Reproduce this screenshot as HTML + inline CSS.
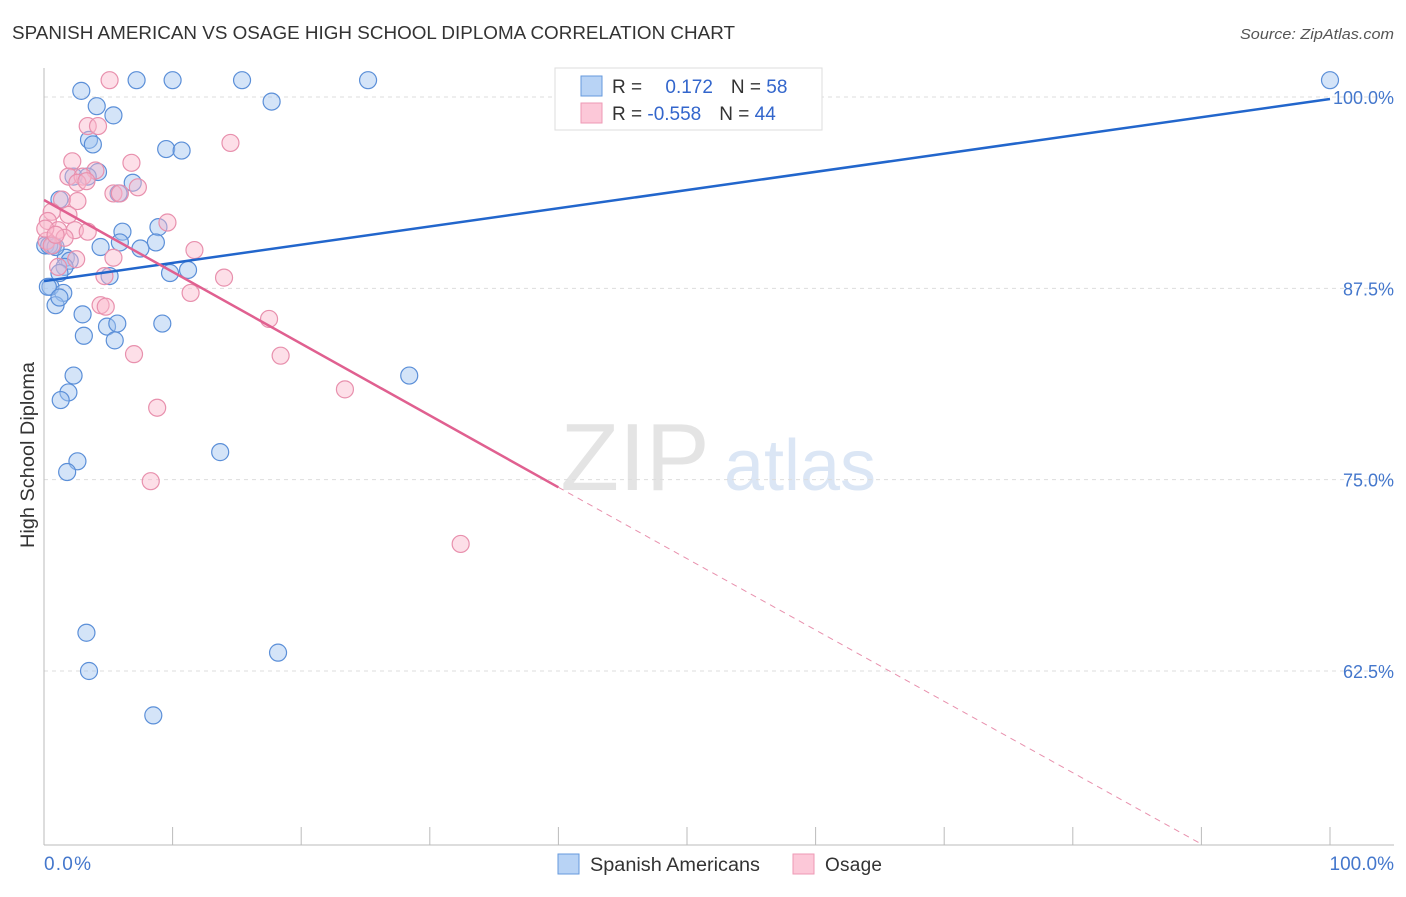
<!DOCTYPE html>
<html><head><meta charset="utf-8"><style>
body{margin:0;background:#fff;font-family:"Liberation Sans",sans-serif}
svg text{font-family:"Liberation Sans",sans-serif}
</style></head><body>
<svg id="c" width="1406" height="892">
<text x="12" y="39" font-size="18" fill="#333" textLength="723" lengthAdjust="spacingAndGlyphs">SPANISH AMERICAN VS OSAGE HIGH SCHOOL DIPLOMA CORRELATION CHART</text>
<text x="1394" y="39" font-size="15" fill="#555" text-anchor="end" font-style="italic" textLength="154" lengthAdjust="spacingAndGlyphs">Source: ZipAtlas.com</text>
<g><text x="635" y="490" font-size="96" fill="#e4e4e4" font-family="Liberation Serif" text-anchor="middle">ZIP</text><text x="800" y="490" font-size="72" fill="#dbe6f5" text-anchor="middle">atlas</text></g>
<g id="grid"></g><g id="marks"></g>
<text transform="translate(34,455) rotate(-90)" font-size="19" fill="#333" text-anchor="middle" textLength="186" lengthAdjust="spacingAndGlyphs">High School Diploma</text>
<text x="44" y="870" font-size="19" fill="#4477cc" textLength="47">0.0%</text>
<text x="1394" y="870" font-size="19" fill="#4477cc" text-anchor="end">100.0%</text>
<g>
<rect x="555" y="68" width="267" height="62" fill="#fff" stroke="#ddd"/>
<rect x="581" y="76" width="21" height="20" fill="#b8d3f5" stroke="#6699dd"/>
<rect x="581" y="103" width="21" height="20" fill="#fcc8d8" stroke="#ee99b5"/>
<text x="612" y="93" font-size="19" fill="#333">R = <tspan fill="#3366cc" dx="18">0.172</tspan><tspan dx="18">N = </tspan><tspan fill="#3366cc">58</tspan></text>
<text x="612" y="120" font-size="19" fill="#333">R = <tspan fill="#3366cc">-0.558</tspan><tspan dx="18">N = </tspan><tspan fill="#3366cc">44</tspan></text>
</g>
<g>
<rect x="558" y="854" width="21" height="20" fill="#b8d3f5" stroke="#6699dd"/>
<text x="590" y="871" font-size="19" fill="#333" textLength="170" lengthAdjust="spacingAndGlyphs">Spanish Americans</text>
<rect x="793" y="854" width="21" height="20" fill="#fcc8d8" stroke="#ee99b5"/>
<text x="825" y="871" font-size="19" fill="#333" textLength="57">Osage</text>
</g>
</svg>
<script>
const yTicks=[100,87.5,75,62.5];
const yTickLabels=["100.0%","87.5%","75.0%","62.5%"];
const blueX=[2.9,7.2,10,15.4,25.2,100,4.1,5.4,17.7,3.5,3.8,9.5,10.7,4.2,2.3,3.4,6.9,5.8,1.2,8.9,6.1,5.9,8.7,0.7,0.1,4.4,7.5,1.7,2,1.6,1.2,5.1,9.8,11.2,0.5,1.5,0.9,3.0,9.2,4.9,5.7,3.1,5.5,2.3,28.4,1.9,1.3,13.7,2.6,1.8,3.3,18.2,3.5,8.5,0.4,0.9,0.3,1.2];
const blueY=[100.4,101.1,101.1,101.1,101.1,101.1,99.4,98.8,99.7,97.2,96.9,96.6,96.5,95.1,94.8,94.8,94.4,93.7,93.3,91.5,91.2,90.5,90.5,90.3,90.3,90.2,90.1,89.5,89.3,88.9,88.5,88.3,88.5,88.7,87.6,87.2,86.4,85.8,85.2,85,85.2,84.4,84.1,81.8,81.8,80.7,80.2,76.8,76.2,75.5,65,63.7,62.5,59.6,90.3,90.2,87.6,86.9];
const pinkX=[5.1,14.5,3.4,4.2,2.2,6.8,4,1.9,3,2.6,7.3,5.4,1.4,2.6,0.6,1.9,0.3,9.6,1.1,2.4,3.4,1.6,0.2,0.6,11.7,5.4,2.5,14,4.7,11.4,4.4,4.8,17.5,7,18.4,23.4,8.8,8.3,32.4,1.1,0.1,0.9,3.3,5.9];
const pinkY=[101.1,97,98.1,98.1,95.8,95.7,95.2,94.8,94.8,94.4,94.1,93.7,93.3,93.2,92.5,92.3,91.9,91.8,91.3,91.3,91.2,90.8,90.6,90.3,90,89.5,89.4,88.2,88.3,87.2,86.4,86.3,85.5,83.2,83.1,80.9,79.7,74.9,70.8,88.9,91.4,91,94.5,93.7];
const blueLine=[0,87.97,100,99.87];
const pinkLine=[0,93.27,40,74.5,89.9,51.24];
const L=44,R=1330,T=97,B=671;
const xs=v=>L+(R-L)*v/100;
const ys=v=>T+(B-T)*(100-v)/37.5;
const ns="http://www.w3.org/2000/svg";
const grid=document.getElementById('grid'),marks=document.getElementById('marks');
function mk(p,tag,a){const e=document.createElementNS(ns,tag);for(const k in a)e.setAttribute(k,a[k]);p.appendChild(e);return e;}
yTicks.forEach((t,i)=>{
 const g=mk(grid,'line',{x1:L,x2:1394,y1:ys(t),y2:ys(t),stroke:'#ddd','stroke-dasharray':'4,4'});
 
 
 const tx=mk(grid,'text',{x:1394,y:ys(t)+7,'font-size':18,fill:'#4477cc','text-anchor':'end'});tx.textContent=yTickLabels[i];
 
 
});
mk(grid,'line',{x1:L,x2:L,y1:68,y2:845,stroke:'#bbb'});
mk(grid,'line',{x1:L,x2:1394,y1:845,y2:845,stroke:'#bbb'});
for(let i=0;i<=10;i++){const x=L+i*128.6;const t=mk(grid,'line',{x1:x,x2:x,y1:827,y2:845,stroke:'#bbb'});
 
 }
blueX.forEach((v,i)=>{const c=mk(marks,'circle',{cx:xs(v),cy:ys(blueY[i]),r:8.5,fill:'rgba(160,195,240,0.45)',stroke:'#5b8fd8','stroke-width':1.2});
 
 });
pinkX.forEach((v,i)=>{const c=mk(marks,'circle',{cx:xs(v),cy:ys(pinkY[i]),r:8.5,fill:'rgba(250,185,205,0.45)',stroke:'#e890ad','stroke-width':1.2});
 
 });
const bl=mk(marks,'line',{x1:xs(blueLine[0]),y1:ys(blueLine[1]),x2:xs(blueLine[2]),y2:ys(blueLine[3]),stroke:'#2266cc','stroke-width':2.5});


const pl=mk(marks,'line',{x1:xs(pinkLine[0]),y1:ys(pinkLine[1]),x2:xs(pinkLine[2]),y2:ys(pinkLine[3]),stroke:'#e06090','stroke-width':2.5});


const pd=mk(marks,'line',{x1:xs(pinkLine[2]),y1:ys(pinkLine[3]),x2:xs(pinkLine[4]),y2:ys(pinkLine[5]),stroke:'#e890ad','stroke-width':1,'stroke-dasharray':'6,5'});


</script>
</body></html>
